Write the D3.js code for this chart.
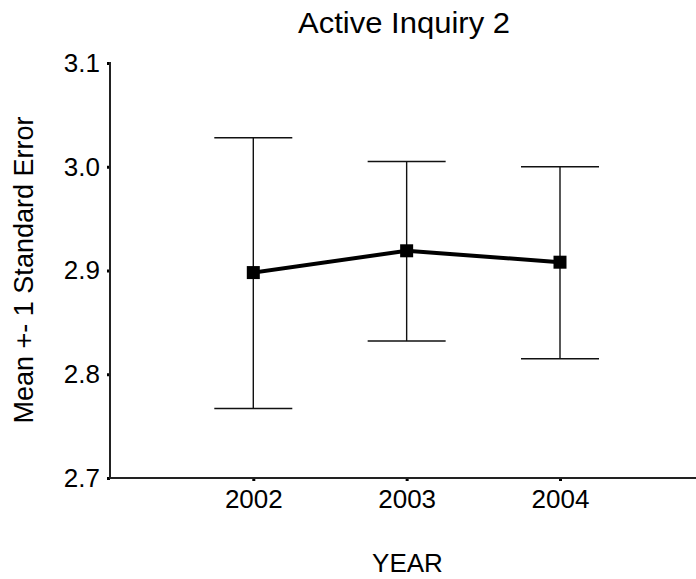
<!DOCTYPE html>
<html>
<head>
<meta charset="utf-8">
<script src="https://cdn.jsdelivr.net/npm/d3@7/dist/d3.min.js"></script>
<style>
  html, body { margin: 0; padding: 0; background: #fff; }
  svg { display: block; }
  text { font-family: "Liberation Sans", Arial, sans-serif; fill: #000; }
</style>
</head>
<body>
<svg id="chart" width="696" height="579"></svg>
<script>
// Mean and ±1 standard error per survey year
const years = [2002, 2003, 2004];
const means = [2.898, 2.919, 2.908];
const upper = [3.028, 3.005, 3.000];
const lower = [2.767, 2.832, 2.815];
const yTicks = [2.7, 2.8, 2.9, 3.0, 3.1];

const title = "Active Inquiry 2";
const xLabel = "YEAR";
const yLabel = "Mean +- 1 Standard Error";

const svg = d3.select("#chart");

const x = d3.scaleLinear().domain([2002, 2004]).range([253.3, 560]);
const y = d3.scaleLinear().domain([2.7, 3.1]).range([478, 63]);

const axisLeftX = 110;
const axisRightX = 696;

// Y axis
const yAxis = d3.axisLeft(y)
  .tickValues(yTicks)
  .tickFormat(d3.format(".1f"))
  .tickSize(3)
  .tickPadding(7);

const gy = svg.append("g")
  .attr("transform", `translate(${axisLeftX},0)`)
  .call(yAxis);
gy.select(".domain").remove();
gy.selectAll(".tick line").attr("stroke", "#000").attr("stroke-width", 3);
gy.selectAll(".tick text")
  .attr("font-size", 26)
  .attr("font-family", "Liberation Sans, Arial, sans-serif")
  .attr("fill", "#000");
svg.append("line")
  .attr("x1", axisLeftX).attr("x2", axisLeftX)
  .attr("y1", y(3.1) - 1).attr("y2", y(2.7) + 1)
  .attr("stroke", "#222").attr("stroke-width", 2);

// X axis
const xAxis = d3.axisBottom(x)
  .tickValues(years)
  .tickFormat(d3.format("d"))
  .tickSize(3)
  .tickPadding(9);

const gx = svg.append("g")
  .attr("transform", `translate(0,${y(2.7)})`)
  .call(xAxis);
gx.select(".domain").remove();
gx.selectAll(".tick line").attr("stroke", "#000").attr("stroke-width", 3);
gx.selectAll(".tick text")
  .attr("font-size", 26)
  .attr("font-family", "Liberation Sans, Arial, sans-serif")
  .attr("fill", "#000");
svg.append("line")
  .attr("x1", axisLeftX - 1).attr("x2", axisRightX)
  .attr("y1", y(2.7)).attr("y2", y(2.7))
  .attr("stroke", "#222").attr("stroke-width", 2);

// Error bars
const capHalf = 39;
const bars = svg.append("g").attr("stroke", "#111").attr("stroke-width", 1.4);
years.forEach((yr, i) => {
  bars.append("line")
    .attr("x1", x(yr)).attr("x2", x(yr))
    .attr("y1", y(upper[i])).attr("y2", y(lower[i]));
  bars.append("line")
    .attr("x1", x(yr) - capHalf).attr("x2", x(yr) + capHalf)
    .attr("y1", y(upper[i])).attr("y2", y(upper[i]));
  bars.append("line")
    .attr("x1", x(yr) - capHalf).attr("x2", x(yr) + capHalf)
    .attr("y1", y(lower[i])).attr("y2", y(lower[i]));
});

// Mean line and markers
const pts = years.map((yr, i) => [x(yr), y(means[i])]);
svg.append("path")
  .attr("d", d3.line()(pts))
  .attr("fill", "none")
  .attr("stroke", "#000")
  .attr("stroke-width", 4);

const m = 13;
svg.append("g").selectAll("rect")
  .data(pts)
  .join("rect")
  .attr("x", d => d[0] - m / 2)
  .attr("y", d => d[1] - m / 2)
  .attr("width", m)
  .attr("height", m)
  .attr("fill", "#000");

// Titles
svg.append("text")
  .attr("x", 404).attr("y", 33)
  .attr("text-anchor", "middle")
  .attr("font-size", 30)
  .attr("textLength", 212)
  .attr("lengthAdjust", "spacingAndGlyphs")
  .text(title);

svg.append("text")
  .attr("x", 407.5).attr("y", 572)
  .attr("text-anchor", "middle")
  .attr("font-size", 26)
  .text(xLabel);

svg.append("text")
  .attr("transform", "translate(33,270) rotate(-90)")
  .attr("text-anchor", "middle")
  .attr("font-size", 27)
  .text(yLabel);
</script>
</body>
</html>
